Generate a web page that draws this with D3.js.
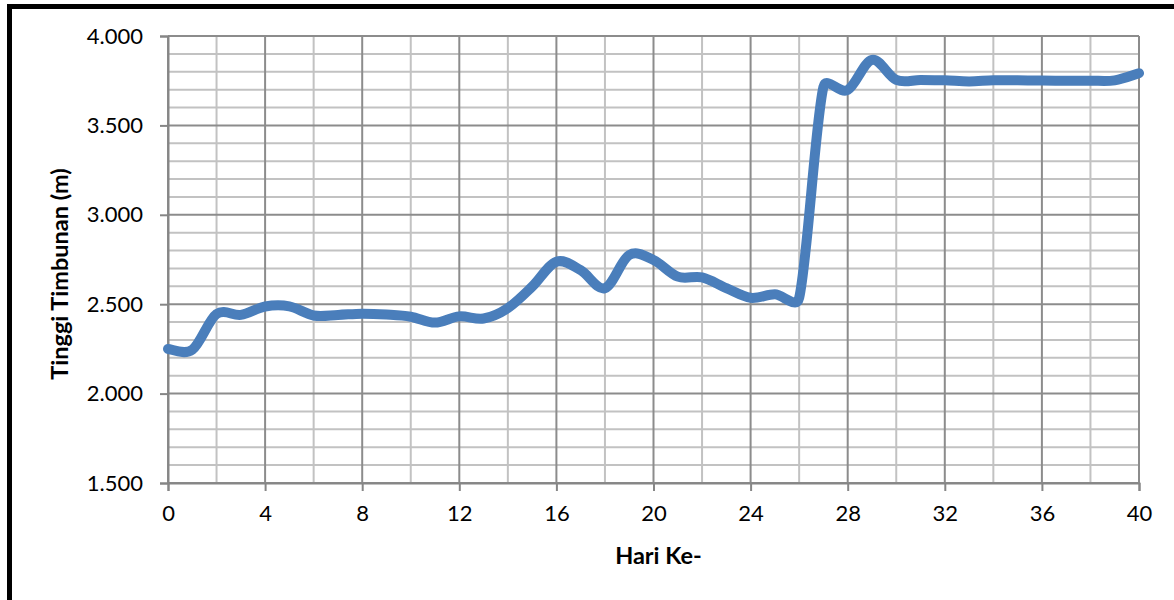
<!DOCTYPE html>
<html>
<head>
<meta charset="utf-8">
<script src="https://cdn.jsdelivr.net/npm/d3@7"></script>
<style>
  html, body { margin: 0; padding: 0; background: #fff; }
  svg { display: block; }
  text { font-family: Lato, "Open Sans", sans-serif; fill: #000; }
</style>
</head>
<body>
<svg id="chart" width="1174" height="600"></svg>
<script>
// Tinggi timbunan per hari
const days = [0,1,2,3,4,5,6,7,8,9,10,11,12,13,14,15,16,17,18,19,20,
              21,22,23,24,25,26,27,28,29,30,31,32,33,34,35,36,37,38,39,40];
const heights = [2.250,2.245,2.445,2.440,2.487,2.488,2.437,2.440,2.447,2.442,2.430,
                 2.397,2.432,2.420,2.478,2.598,2.738,2.690,2.590,2.775,2.747,
                 2.654,2.650,2.590,2.536,2.555,2.535,3.715,3.698,3.866,3.754,
                 3.754,3.752,3.746,3.752,3.752,3.751,3.750,3.750,3.752,3.792];
const xTicks = [0,4,8,12,16,20,24,28,32,36,40];
const yTicks = [1.5,2.0,2.5,3.0,3.5,4.0];
const xTitle = "Hari Ke-";
const yTitle = "Tinggi Timbunan (m)";

const svg = d3.select("#chart");
const plot = { left: 168, right: 1139, top: 36, bottom: 483 };

const x = d3.scaleLinear().domain([0, 40]).range([plot.left, plot.right]);
const y = d3.scaleLinear().domain([1.5, 4.0]).range([plot.bottom, plot.top]);

// Smoothed-line curve: Bezier segments with handles of 1/6 of the
// neighbour chord, shortened where a neighbouring chord is much longer.
function curveSmoothClamped(context) {
  let pts;
  const dist = (a, b) => Math.hypot(b[0] - a[0], b[1] - a[1]);
  return {
    areaStart() {}, areaEnd() {},
    lineStart() { pts = []; },
    point(px, py) { pts.push([+px, +py]); },
    lineEnd() {
      const n = pts.length;
      if (!n) return;
      context.moveTo(pts[0][0], pts[0][1]);
      for (let i = 0; i < n - 1; i++) {
        const p0 = pts[Math.max(i - 1, 0)], p1 = pts[i],
              p2 = pts[i + 1], p3 = pts[Math.min(i + 2, n - 1)];
        const d12 = dist(p1, p2), d02 = dist(p0, p2), d13 = dist(p1, p3);
        const f1 = (d02 / 6 < d12 / 2 || d02 === 0) ? 1 / 6 : d12 / (2 * d02);
        const f2 = (d13 / 6 < d12 / 2 || d13 === 0) ? 1 / 6 : d12 / (2 * d13);
        context.bezierCurveTo(
          p1[0] + f1 * (p2[0] - p0[0]), p1[1] + f1 * (p2[1] - p0[1]),
          p2[0] - f2 * (p3[0] - p1[0]), p2[1] - f2 * (p3[1] - p1[1]),
          p2[0], p2[1]);
      }
    }
  };
}

// Outer frame (right and bottom edges run past the canvas)
svg.append("rect")
  .attr("x", 9.5).attr("y", 6.5)
  .attr("width", 1200).attr("height", 700)
  .attr("fill", "none").attr("stroke", "#000").attr("stroke-width", 5);

// Minor grid
const minorX = d3.range(0, 41, 2).filter(d => d % 4 !== 0);
const minorY = d3.range(15, 41, 1).map(d => d / 10).filter(d => Math.round(d * 10) % 5 !== 0);
const grid = svg.append("g");
grid.selectAll(".mx").data(minorX).join("line")
  .attr("x1", d => x(d)).attr("x2", d => x(d))
  .attr("y1", plot.top).attr("y2", plot.bottom)
  .attr("stroke", "#c2c2c2").attr("stroke-width", 2);
grid.selectAll(".my").data(minorY).join("line")
  .attr("x1", plot.left).attr("x2", plot.right)
  .attr("y1", d => y(d)).attr("y2", d => y(d))
  .attr("stroke", "#c2c2c2").attr("stroke-width", 2);

// Major grid
grid.selectAll(".Mx").data(xTicks).join("line")
  .attr("x1", d => x(d)).attr("x2", d => x(d))
  .attr("y1", plot.top).attr("y2", plot.bottom)
  .attr("stroke", "#8c8c8c").attr("stroke-width", 2);
grid.selectAll(".My").data(yTicks).join("line")
  .attr("x1", plot.left).attr("x2", plot.right)
  .attr("y1", d => y(d)).attr("y2", d => y(d))
  .attr("stroke", "#8c8c8c").attr("stroke-width", 2);

// Axes
const xAxis = d3.axisBottom(x).tickValues(xTicks).tickSize(8).tickPadding(14)
  .tickFormat(d3.format("d"));
const yAxis = d3.axisLeft(y).tickValues(yTicks).tickSize(8).tickPadding(17)
  .tickFormat(d3.format(".3f"));

const gx = svg.append("g").attr("transform", `translate(0,${plot.bottom})`).call(xAxis);
const gy = svg.append("g").attr("transform", `translate(${plot.left},0)`).call(yAxis);
[gx, gy].forEach(g => {
  g.select(".domain").attr("stroke", "#868686").attr("stroke-width", 2);
  g.selectAll(".tick line").attr("stroke", "#868686").attr("stroke-width", 2);
  g.selectAll(".tick text").attr("font-size", 22).attr("font-family", "Lato, sans-serif").attr("fill", "#000");
});

// Series line
const line = d3.line()
  .x((d, i) => x(days[i]))
  .y(d => y(d))
  .curve(curveSmoothClamped);

svg.append("path")
  .datum(heights)
  .attr("d", line)
  .attr("fill", "none")
  .attr("stroke", "#4a7ebb")
  .attr("stroke-width", 10)
  .attr("stroke-linecap", "round")
  .attr("stroke-linejoin", "round");

// Axis titles
svg.append("text")
  .attr("x", (plot.left + plot.right) / 2 + 5).attr("y", 564)
  .attr("text-anchor", "middle")
  .attr("font-size", 23.5).attr("font-weight", "bold")
  .text(xTitle);

svg.append("text")
  .attr("transform", `translate(68,${274}) rotate(-90)`)
  .attr("text-anchor", "middle")
  .attr("font-size", 23.5).attr("font-weight", "bold")
  .text(yTitle);
</script>
</body>
</html>
